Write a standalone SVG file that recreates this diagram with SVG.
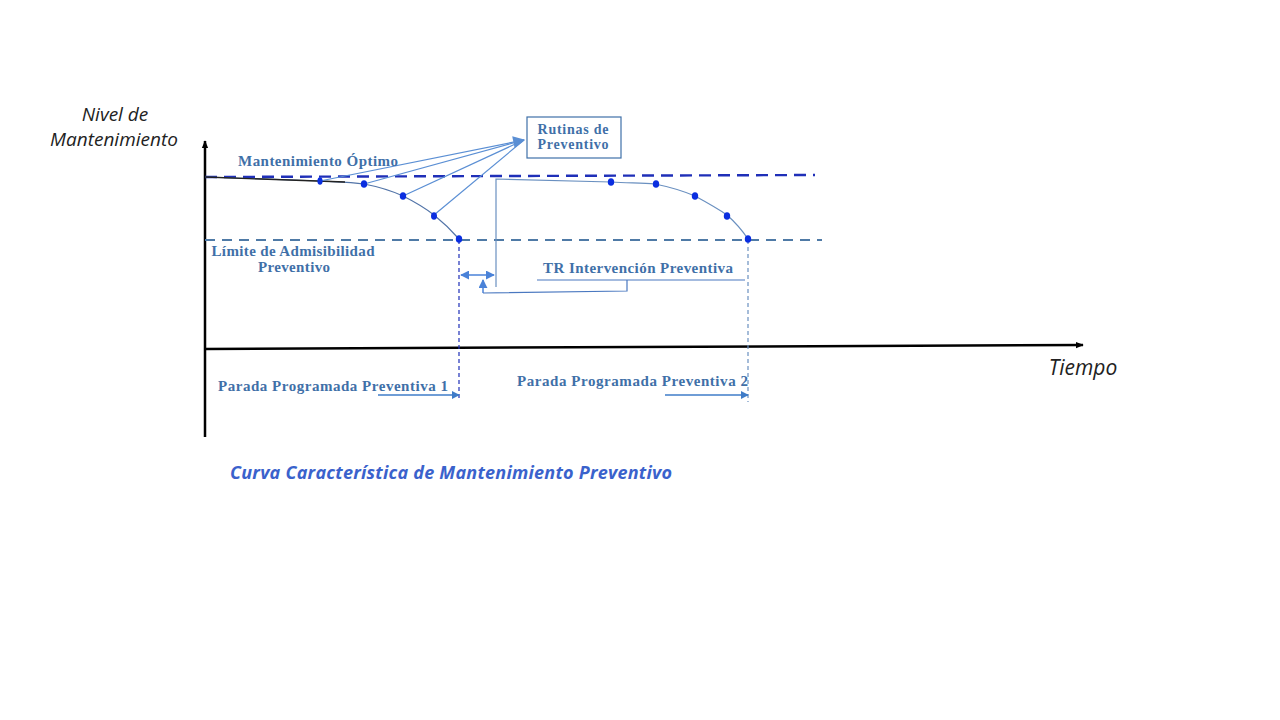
<svg xmlns="http://www.w3.org/2000/svg" width="1280" height="720" viewBox="0 0 1280 720">
<defs>
<style>
.lbl{font-family:"Liberation Serif","Times New Roman",serif;font-weight:bold;font-size:15px;fill:#3f70a8}
.ax{font-family:"Open Sans","Liberation Sans",sans-serif;font-style:italic;font-size:19px;fill:#222}
.title{font-family:"Open Sans","Liberation Sans",sans-serif;font-style:italic;font-weight:bold;font-size:18px;fill:#3a62cc}
.dot{fill:#0a2ee0}
.curve{fill:none;stroke:#5274a8;stroke-width:1.2}
.lead{fill:none;stroke:#5b8fd4;stroke-width:1.2}
.dim{fill:none;stroke:#4a82d8;stroke-width:1.5}
</style>
<marker id="ab" viewBox="0 0 10 10" refX="9" refY="5" markerWidth="8" markerHeight="8" orient="auto-start-reverse" markerUnits="userSpaceOnUse">
<path d="M0,1 L10,5 L0,9 z" fill="#000"/>
</marker>
<marker id="al" viewBox="0 0 10 10" refX="9" refY="5" markerWidth="14" markerHeight="12" orient="auto" markerUnits="userSpaceOnUse">
<path d="M0,0 L10,5 L0,10 z" fill="#5b8fd4"/>
</marker>
<marker id="ad" viewBox="0 0 10 10" refX="9" refY="5" markerWidth="9" markerHeight="9" orient="auto-start-reverse" markerUnits="userSpaceOnUse">
<path d="M0,0 L10,5 L0,10 z" fill="#4a82d8"/>
</marker>
<marker id="ap" viewBox="0 0 10 10" refX="9" refY="5" markerWidth="8" markerHeight="8" orient="auto" markerUnits="userSpaceOnUse">
<path d="M0,0 L10,5 L0,10 z" fill="#3f7cc8"/>
</marker>
</defs>
<rect width="1280" height="720" fill="#fff"/>

<g id="axes">
<line x1="205" y1="437" x2="205" y2="141" stroke="#000" stroke-width="2.5" marker-end="url(#ab)"/>
<line x1="204" y1="349" x2="1083" y2="345" stroke="#000" stroke-width="2.5" marker-end="url(#ab)"/>
<text class="ax" x="115" y="121" text-anchor="middle">Nivel de</text>
<text class="ax" x="114" y="146" text-anchor="middle">Mantenimiento</text>
<text class="ax" x="1083" y="375" text-anchor="middle" style="font-size:21px">Tiempo</text>
</g>

<g id="levels">
<line x1="205" y1="177" x2="815" y2="175" stroke="#1f2fb8" stroke-width="2.4" stroke-dasharray="12,7"/>
<line x1="205" y1="240" x2="822" y2="240" stroke="#4f7aa6" stroke-width="2" stroke-dasharray="10,7"/>
</g>

<g id="connectors">
<path class="curve" d="M205,177 L320,181 C340,182 350,182 364,184 C380,187 392,191 403,196 C415,202 425,208 434,215 C444,223 452,231 459,239"/>
<path d="M205,177 L345,182" fill="none" stroke="#222" stroke-width="1.3"/>
<line x1="459" y1="240" x2="459" y2="400" stroke="#1f2fb8" stroke-width="1.2" stroke-dasharray="4,3"/>
<path class="curve" d="M496,287 L496,179 L611,182 C630,183 642,183 655,184 C670,187 683,191 695,196 C706,202 717,208 727,215 C736,223 742,230 748,239" style="stroke:#6a90c0"/>
<line x1="748" y1="240" x2="748" y2="402" stroke="#6a90c0" stroke-width="1.2" stroke-dasharray="4,3"/>
<line class="lead" x1="320" y1="181" x2="524" y2="140" marker-end="url(#al)"/>
<line class="lead" x1="364" y1="184" x2="524" y2="140"/>
<line class="lead" x1="403" y1="196" x2="524" y2="140"/>
<line class="lead" x1="434" y1="215" x2="524" y2="140"/>
<line class="dim" x1="461" y1="275" x2="494" y2="275" marker-start="url(#ad)" marker-end="url(#ad)"/>
<line class="dim" x1="483" y1="293" x2="483" y2="280" marker-end="url(#ad)"/>
<polyline fill="none" stroke="#4a78c0" stroke-width="1.2" points="483,293 627,291 627,280"/>
<line x1="537" y1="280" x2="745" y2="280" stroke="#4a78c0" stroke-width="1.2"/>
<line x1="378" y1="395" x2="459" y2="395" stroke="#3f7cc8" stroke-width="1.3" marker-end="url(#ap)"/>
<line x1="665" y1="395" x2="748" y2="395" stroke="#3f7cc8" stroke-width="1.3" marker-end="url(#ap)"/>
</g>

<g id="dots">
<ellipse class="dot" cx="320" cy="181" rx="2.6" ry="3.8"/>
<ellipse class="dot" cx="364" cy="184" rx="3.2" ry="3.8"/>
<ellipse class="dot" cx="403" cy="196" rx="3.2" ry="3.8"/>
<ellipse class="dot" cx="434" cy="216" rx="3" ry="3.8"/>
<ellipse class="dot" cx="459" cy="239" rx="3.2" ry="3.8"/>
<ellipse class="dot" cx="611" cy="182" rx="3.2" ry="3.8"/>
<ellipse class="dot" cx="656" cy="184" rx="3.2" ry="3.8"/>
<ellipse class="dot" cx="695" cy="196" rx="3.2" ry="3.8"/>
<ellipse class="dot" cx="727" cy="216" rx="3.2" ry="3.8"/>
<ellipse class="dot" cx="748" cy="239" rx="3.2" ry="3.8"/>
</g>

<g id="rutinas">
<rect x="527" y="117" width="94" height="41" fill="#fff" stroke="#3f70a8" stroke-width="1.2"/>
<text class="lbl" x="573" y="134" text-anchor="middle" textLength="71" style="font-size:14px">Rutinas de</text>
<text class="lbl" x="573" y="149" text-anchor="middle" textLength="71" style="font-size:14px">Preventivo</text>
</g>

<g id="optimo">
<text class="lbl" x="238" y="166" textLength="160">Mantenimiento Óptimo</text>
</g>

<g id="limite">
<text class="lbl" x="293" y="256" text-anchor="middle" textLength="163">Límite de Admisibilidad</text>
<text class="lbl" x="294" y="272" text-anchor="middle" textLength="72">Preventivo</text>
</g>

<g id="tr">
<text class="lbl" x="638" y="273" text-anchor="middle" textLength="190">TR Intervención Preventiva</text>
</g>

<g id="parada1">
<text class="lbl" x="218" y="391" textLength="230">Parada Programada Preventiva 1</text>
</g>
<g id="parada2">
<text class="lbl" x="517" y="386" textLength="231">Parada Programada Preventiva 2</text>
</g>

<g id="caption">
<text class="title" x="230" y="479" textLength="442">Curva Característica de Mantenimiento Preventivo</text>
</g>
</svg>
